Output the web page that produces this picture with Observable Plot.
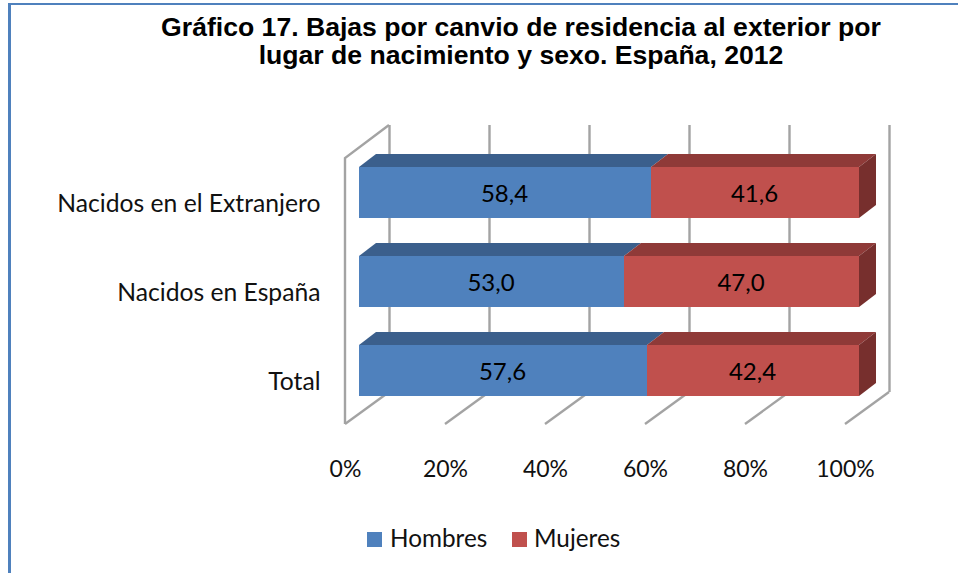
<!DOCTYPE html>
<html lang="es">
<head>
<meta charset="utf-8">
<script src="https://cdn.jsdelivr.net/npm/d3@7"></script>
<script src="https://cdn.jsdelivr.net/npm/@observablehq/plot@0.6"></script>
<style>
  html, body { margin: 0; padding: 0; background: #fff; overflow: hidden; }
  #page { position: relative; width: 958px; height: 573px; }
  #frame { position: absolute; left: 8px; top: 3px; right: -4px; bottom: -4px; border-style: solid; border-color: #4F81BD; border-width: 2px 3px 3px 3px; pointer-events: none; }
  #title { position: relative; box-sizing: border-box; height: 72px; padding-top: 13px; width: 1042px; text-align: center;
           font: bold 26.6px/28px "Liberation Sans", Arial, sans-serif; color: #000; }
  #chart svg { display: block; background: transparent; }
  #legend { position: relative; height: 68px; font: 24.3px "Lato", sans-serif; color: #111; }
  #legend span { position: absolute; top: 17px; line-height: 32px; }
  #legend i { position: absolute; top: 27px; width: 15px; height: 15px; }
</style>
</head>
<body>
<div id="page">
  <div id="frame"></div>
  <div id="title">Gráfico 17. Bajas por canvio de residencia al exterior por<br>lugar de nacimiento y sexo. España, 2012</div>
  <div id="chart"></div>
  <div id="legend"></div>
</div>
<script>
const categories = ["Nacidos en el Extranjero", "Nacidos en España", "Total"];
const seriesNames = ["Hombres", "Mujeres"];
const hombres = [58.4, 53.0, 57.6];
const mujeres = [41.6, 47.0, 42.4];
const xTicks = [0, 20, 40, 60, 80, 100];

const frontColors = ["#4F81BD", "#C0504D"];
const topColors = ["#3B5F8C", "#8F3A38"];
const sideColor = "#772F2D";
const wallColor = "#A3A3A3";

const rows = categories.flatMap((cat, i) => [
  {cat, sex: seriesNames[0], value: hombres[i], start: 0, end: hombres[i]},
  {cat, sex: seriesNames[1], value: mujeres[i], start: hombres[i], end: 100}
]);

const fmt = v => v.toFixed(1).replace(".", ",");

// Perspective offsets of the 3-D look, in pixels
const barShift = 14, depthX = 17, depthY = 13, wallX = 44, wallY = 32;
const W = 958, H = 433, top_ = 53, bottom_ = 320;
const bandPadding = 1 - 51 / 89;

// Faces of the bars: drawn from the chart's own scales
function barFaces(index, scales) {
  const g = d3.create("svg:g");
  const step = scales.y(categories[1]) - scales.y(categories[0]);
  const bw = step * (1 - bandPadding);
  for (const r of rows) {
    const x0 = scales.x(r.start) + barShift, x1 = scales.x(r.end) + barShift, y = scales.y(r.cat);
    const c = seriesNames.indexOf(r.sex);
    g.append("polygon")
      .attr("points", [[x0, y], [x1, y], [x1 + depthX, y - depthY], [x0 + depthX, y - depthY]].join(" "))
      .attr("fill", topColors[c]);
    if (r.end === 100) {
      g.append("polygon")
        .attr("points", [[x1, y], [x1 + depthX, y - depthY], [x1 + depthX, y + bw - depthY], [x1, y + bw]].join(" "))
        .attr("fill", sideColor);
    }
  }
  return g.node();
}

// Floor and left wall
function walls(index, scales, values, dims) {
  const g = d3.create("svg:g").attr("stroke", wallColor).attr("stroke-width", 2.4).attr("fill", "none");
  const yB = dims.height - dims.marginBottom, yT = dims.marginTop;
  for (const t of xTicks) {
    const x = scales.x(t);
    g.append("line").attr("x1", x + wallX).attr("y1", yB).attr("x2", x).attr("y2", yB + wallY);
  }
  const x0 = scales.x(0);
  g.append("path").attr("d", `M${x0 + wallX},${yT}L${x0},${yT + wallY + 1}V${yB + wallY}`);
  return g.node();
}

const plot = Plot.plot({
  width: W,
  height: H,
  marginTop: top_,
  marginBottom: H - bottom_,
  marginLeft: 345,
  marginRight: 113,
  style: {fontFamily: "Lato, sans-serif", color: "#111", background: "transparent"},
  x: {domain: [0, 100], range: [345, 845], axis: null},
  y: {domain: categories, range: [95, 324], padding: bandPadding, paddingOuter: 0, align: 0.5, axis: null},
  color: {domain: seriesNames, range: frontColors},
  marks: [
    Plot.ruleX(xTicks, {x: d => d, dx: wallX, stroke: wallColor, strokeWidth: 2.4}),
    walls,
    barFaces,
    Plot.barX(rows, {x1: "start", x2: "end", y: "cat", fill: "sex", dx: barShift}),
    Plot.text(rows, {x: d => (d.start + d.end) / 2, y: "cat", text: d => fmt(d.value), dx: barShift - 1, dy: 1.5, fontSize: 24, fill: "#000"}),
    Plot.axisY({anchor: "left", tickSize: 0, tickPadding: 25, dy: 11, fontSize: 24.7, label: null}),
    Plot.axisX(xTicks, {anchor: "bottom", tickSize: 0, tickPadding: 68, fontSize: 23, label: null, tickFormat: d => d + "%"})
  ]
});
document.getElementById("chart").append(plot);

const lg = d3.select("#legend");
[[367, 390], [512, 534]].forEach(([sx, tx], i) => {
  lg.append("i").style("left", sx + "px").style("background", frontColors[i]);
  lg.append("span").style("left", tx + "px").text(seriesNames[i]);
});
</script>
</body>
</html>
